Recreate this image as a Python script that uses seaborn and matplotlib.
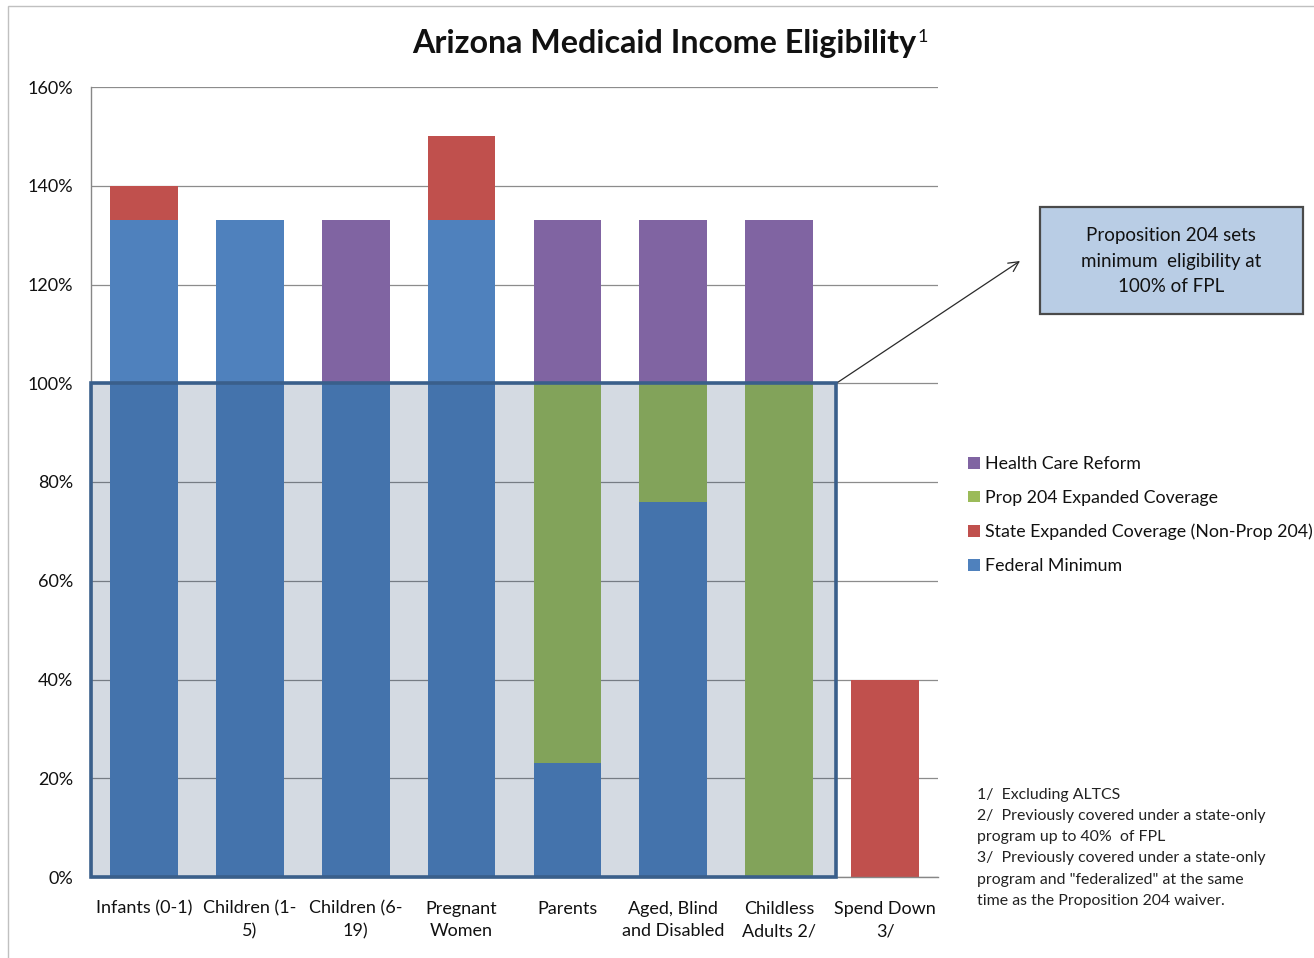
#!/usr/bin/env python3
# Arizona Medicaid income eligibility: stacked bars by population group.

import pandas as pd
import seaborn as sns
import matplotlib.pyplot as plt
from matplotlib.patches import Patch, Rectangle
from matplotlib.ticker import FuncFormatter

CATEGORIES  = ["Infants (0-1)", "Children (1-\n5)", "Children (6-\n19)", "Pregnant\nWomen",
               "Parents", "Aged, Blind\nand Disabled", "Childless\nAdults 2/", "Spend Down\n3/"]
FEDERAL_MIN = [133, 133, 100, 133, 23, 76, 0, 0]
STATE_EXP   = [7, 0, 0, 17, 0, 0, 0, 40]
PROP_204    = [0, 0, 0, 0, 77, 24, 100, 0]
HEALTH_REF  = [0, 0, 33, 0, 33, 33, 33, 0]

# stacking order bottom -> top
SERIES = ["Federal Minimum", "State Expanded Coverage (Non-Prop 204)",
          "Prop 204 Expanded Coverage", "Health Care Reform"]
COLORS = {
    "Federal Minimum": "#4f81bd",
    "State Expanded Coverage (Non-Prop 204)": "#c0504d",
    "Prop 204 Expanded Coverage": "#9bbb59",
    "Health Care Reform": "#8064a2",
}

NOTES = ("1/  Excluding ALTCS\n"
         "2/  Previously covered under a state-only\n"
         "program up to 40%  of FPL\n"
         "3/  Previously covered under a state-only\n"
         "program and \"federalized\" at the same\n"
         "time as the Proposition 204 waiver.")

W, H = 1314, 958
INK = "#111111"


def main():
    df = pd.DataFrame({
        "group": CATEGORIES,
        SERIES[0]: FEDERAL_MIN,
        SERIES[1]: STATE_EXP,
        SERIES[2]: PROP_204,
        SERIES[3]: HEALTH_REF,
    })
    # cumulative tops so each layer can be overdrawn from the top down
    cum = df[SERIES].cumsum(axis=1)
    for s in SERIES:
        df["top_" + s] = cum[s]

    sns.set_theme(style="white")
    plt.rcParams["font.family"] = ["Lato", "DejaVu Sans"]

    fig = plt.figure(figsize=(W / 100, H / 100), dpi=100)
    ax = fig.add_axes([91 / W, 1 - 877 / H, (938 - 91) / W, (877 - 87) / H])

    for s in reversed(SERIES):
        sns.barplot(data=df, x="group", y="top_" + s, order=CATEGORIES,
                    color=COLORS[s], saturation=1, width=0.64, ax=ax, zorder=2,
                    linewidth=0, edgecolor="none")

    ax.set_xlim(-0.5, 7.5)
    ax.set_ylim(0, 160)
    ax.set_yticks(range(0, 161, 20))
    ax.yaxis.set_major_formatter(FuncFormatter(lambda v, _: f"{v:.0f}%"))
    ax.set_xlabel("")
    ax.set_ylabel("")
    ax.grid(True, axis="y", color="#8c8c8c", linewidth=0.9)
    ax.set_axisbelow(True)
    for side in ("top", "right"):
        ax.spines[side].set_visible(False)
    for side in ("left", "bottom"):
        ax.spines[side].set_color("#878787")
        ax.spines[side].set_linewidth(1.0)
    ax.tick_params(axis="both", length=0, labelsize=13, colors=INK)
    ax.tick_params(axis="y", pad=13)
    ax.tick_params(axis="x", pad=17)
    for lbl in ax.get_xticklabels():
        lbl.set_linespacing(1.5)

    # translucent 100% FPL box
    ax.add_patch(Rectangle((-0.5, 0), 7.04, 100,
                           facecolor=(20 / 255, 55 / 255, 99 / 255, 0.18),
                           edgecolor="#3a5f8b", linewidth=2.6, zorder=5, clip_on=False))

    ax.annotate("", xy=(1020 / W, 1 - 261 / H), xycoords="figure fraction",
                xytext=(6.54, 100), textcoords="data",
                arrowprops=dict(arrowstyle="->", color="#2a2a2a", lw=0.9,
                                shrinkA=0, shrinkB=0, mutation_scale=18))

    fig.add_artist(Rectangle((1040 / W, 1 - 314 / H), 263 / W, 107 / H,
                             transform=fig.transFigure, facecolor="#b9cde5",
                             edgecolor="#4a4a4a", linewidth=1.6))
    fig.text(1171 / W, 1 - 261 / H, "Proposition 204 sets\nminimum  eligibility at\n100% of FPL",
             ha="center", va="center", fontsize=13.5, linespacing=1.62, color=INK)

    handles = [Patch(facecolor=COLORS[s], edgecolor="none") for s in reversed(SERIES)]
    leg = fig.legend(handles, list(reversed(SERIES)), loc="upper left",
                     bbox_to_anchor=(952 / W, 1 - 440 / H), frameon=False,
                     fontsize=12.8, handlelength=0.65, handleheight=0.65,
                     handletextpad=0.3, labelspacing=1.0)
    for t in leg.get_texts():
        t.set_color(INK)

    fig.text(977 / W, 1 - 788 / H, NOTES, ha="left", va="top",
             fontsize=11.4, linespacing=1.65, color="#222222")

    title = fig.text(664 / W, 1 - 44 / H, "Arizona Medicaid Income Eligibility",
                     ha="center", va="center", fontsize=23.2, fontweight="bold", color=INK)
    fig.canvas.draw()
    bb = title.get_window_extent().transformed(fig.transFigure.inverted())
    fig.text(bb.x1 + 1 / W, bb.y1 + 1 / H, "1", ha="left", va="top", fontsize=13, color=INK)

    # outer chart border
    fig.add_artist(Rectangle((8 / W, -0.01), 1.2, 1 - 6 / H + 0.01,
                             transform=fig.transFigure, fill=False,
                             edgecolor="#c0c0c0", linewidth=1.0))

    fig.savefig("out.png", dpi=100)


if __name__ == "__main__":
    main()
